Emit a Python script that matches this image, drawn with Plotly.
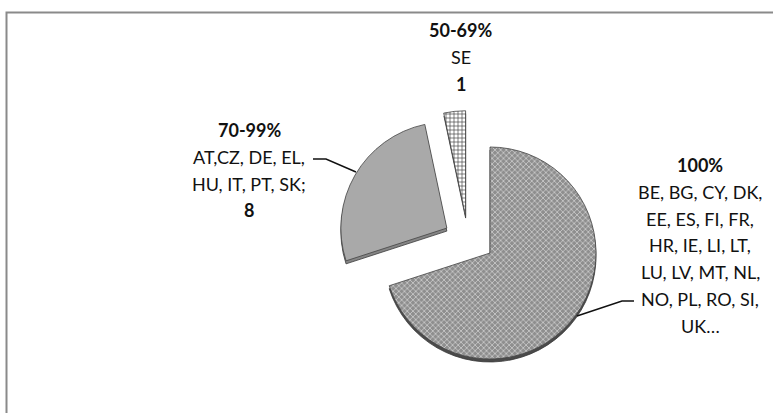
import plotly.graph_objects as go

# Share of coverage groups and the number of countries in each
categories = ["100%", "70-99%", "50-69%"]
counts = [21, 8, 1]
countries = [
    ["BE, BG, CY, DK,", "EE, ES, FI, FR,", "HR, IE, LI, LT,",
     "LU, LV, MT, NL,", "NO, PL, RO, SI,", "UK…"],
    ["AT,CZ, DE, EL,", "HU, IT, PT, SK;"],
    ["SE"],
]
pulls = [0, 0.47, 0.40]

W, H = 773, 413
FONT = "Lato"

# pie geometry in pixels
cx, cy, r = 490, 253, 106
box = 2 * r * (1 + max(pulls))
# the small slice sits a little further to the left than a plain pull puts it
small_shift = (-20, 6)


def clamp(v):
    return min(1.0, max(0.0, v))


def domain(dx=0, dy=0):
    x0 = (cx + dx - box / 2) / W
    x1 = (cx + dx + box / 2) / W
    y0 = 1 - (cy + dy + box / 2) / H
    y1 = 1 - (cy + dy - box / 2) / H
    return dict(x=[clamp(x0), clamp(x1)], y=[clamp(y0), clamp(y1)])


NONE = "rgba(0,0,0,0)"
face_colors = ["#9a9a9a", "#a9a9a9", "#ffffff"]
side_colors = ["#4a4a4a", "#858585", "#505050"]
patterns = dict(shape=["x", "", "+"],
                fgcolor=["#cfcfcf", "#a9a9a9", "#3c3c3c"],
                bgcolor=["#8e8e8e", "#a9a9a9", "#ffffff"],
                size=[4, 6, 4], solidity=[0.35, 0.3, 0.3],
                fillmode="replace")


def only(keep, seq, other):
    return [v if i in keep else other for i, v in enumerate(seq)]


fig = go.Figure()


def add_slices(keep, dx, dy):
    # darker copy a few pixels lower gives the slices their thickness
    fig.add_trace(go.Pie(
        labels=categories, values=counts, pull=pulls, sort=False,
        direction="clockwise", rotation=0, textinfo="none", hoverinfo="skip",
        domain=domain(dx, dy + 3), showlegend=False,
        marker=dict(colors=only(keep, side_colors, NONE),
                    line=dict(color=only(keep, ["#3a3a3a"] * 3, NONE),
                              width=0.8)),
    ))
    pat = dict(patterns)
    pat["fgcolor"] = only(keep, patterns["fgcolor"], NONE)
    pat["bgcolor"] = only(keep, patterns["bgcolor"], NONE)
    fig.add_trace(go.Pie(
        labels=categories, values=counts, pull=pulls, sort=False,
        direction="clockwise", rotation=0, textinfo="none",
        domain=domain(dx, dy), showlegend=False,
        hoverinfo="label+value" if keep else "skip",
        marker=dict(colors=only(keep, face_colors, NONE),
                    line=dict(color=only(keep, ["#444444"] * 3, NONE),
                              width=0.8),
                    pattern=pat),
    ))


add_slices({0, 1}, 0, 0)
add_slices({2}, *small_shift)

# label blocks: (category index, centre x, first line y)
blocks = [(0, 700, 165), (1, 249, 130), (2, 461, 30)]
step = 26.8
ann = []
for idx, x, y0 in blocks:
    lines = [(categories[idx], True)] + [(t, False) for t in countries[idx]]
    if idx != 0:
        lines.append((str(counts[idx]), True))
    for k, (t, bold) in enumerate(lines):
        ann.append(dict(
            x=x / W, y=1 - (y0 + k * step) / H, xref="paper", yref="paper",
            text=f"<b>{t}</b>" if bold else t, showarrow=False,
            xanchor="center", yanchor="middle",
            font=dict(family=FONT, size=18, color="#111111"),
        ))

shapes = [
    # chart frame
    dict(type="rect", xref="paper", yref="paper",
         x0=6.5 / W, x1=(W + 20) / W, y0=-0.1, y1=1 - 12.5 / H,
         line=dict(color="#8a8a8a", width=2), fillcolor="rgba(0,0,0,0)"),
]
# leader lines
for pts in ([(313, 159), (326, 159), (356, 172)],
            [(577, 316), (622, 301), (634, 301)]):
    path = "M " + " L ".join(f"{px / W:.5f},{1 - py / H:.5f}" for px, py in pts)
    shapes.append(dict(type="path", xref="paper", yref="paper", path=path,
                       line=dict(color="#111111", width=1.5)))

fig.update_layout(
    width=W, height=H, margin=dict(l=0, r=0, t=0, b=0),
    paper_bgcolor="white", plot_bgcolor="white",
    annotations=ann, shapes=shapes,
)

fig.write_html("out.html")
